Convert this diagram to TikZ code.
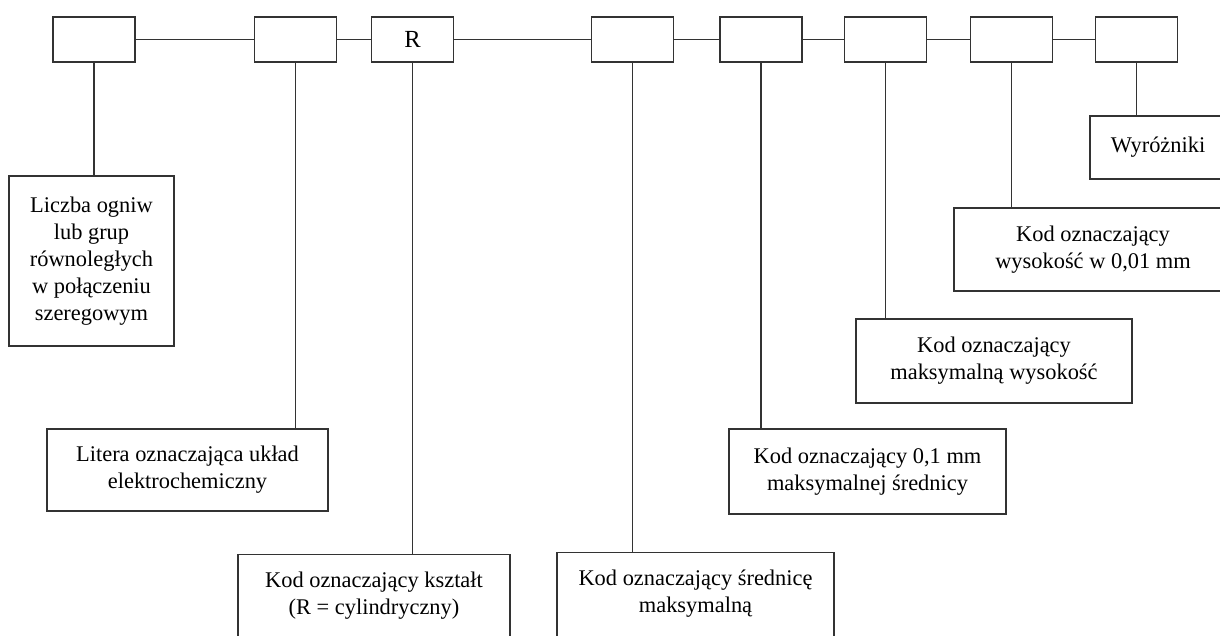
\documentclass[tikz,border=0pt]{standalone}
\usepackage{fontspec}
\setmainfont{Liberation Serif}
\usetikzlibrary{positioning}

\begin{document}
\begin{tikzpicture}[
    node distance=0.8cm,
    kratka/.style={rectangle, draw=black!80, line width=0.7pt, minimum width=1.64cm,
                   minimum height=0.9cm, inner sep=0pt, font=\fontsize{14}{16}\selectfont},
    opis/.style={rectangle, draw=black!80, line width=0.7pt, align=center,
                 inner xsep=4pt, inner ysep=0.34cm, font=\fontsize{12.75}{15.3}\selectfont},
    linia/.style={draw=black!80, line width=0.7pt}
]
    \useasboundingbox (0,0) rectangle (24.4,-12.7);
    \clip (0,0) rectangle (24.4,-12.7);

    % gorny rzad oznaczenia
    \node[kratka] (k1) at (1.88,-0.79) {};
    \node[kratka, right=2.36cm of k1] (k2) {};
    \node[kratka, right=0.68cm of k2] (k3) {R};
    \node[kratka, right=2.74cm of k3] (k4) {};
    \node[kratka, right=0.9cm of k4] (k5) {};
    \node[kratka, right=0.82cm of k5] (k6) {};
    \node[kratka, right=0.86cm of k6] (k7) {};
    \node[kratka, right=0.84cm of k7] (k8) {};

    % opisy
    \node[opis, minimum width=3.3cm, minimum height=3.4cm] (liczba) at (1.83,-5.22)
        {Liczba ogniw\\lub grup\\równoległych\\w połączeniu\\szeregowym};
    \node[opis, minimum width=5.62cm, minimum height=1.64cm] (litera) at (3.75,-9.4)
        {Litera oznaczająca układ\\elektrochemiczny};
    \node[opis, minimum width=5.44cm, text depth=2cm, anchor=north] (ksztalt) at (7.48,-11.08)
        {Kod oznaczający kształt\\(R = cylindryczny)};
    \node[opis, minimum width=5.54cm, text depth=2cm, anchor=north] (srednica) at (13.91,-11.04)
        {Kod oznaczający średnicę\\maksymalną};
    \node[opis, minimum width=5.54cm, minimum height=1.7cm] (maksdm) at (17.35,-9.43)
        {Kod oznaczający 0,1 mm\\maksymalnej średnicy};
    \node[opis, minimum width=5.52cm, minimum height=1.68cm] (makswys) at (19.88,-7.22)
        {Kod oznaczający\\maksymalną wysokość};
    \node[opis, minimum width=5.56cm, minimum height=1.66cm] (wysokosc) at (21.86,-4.99)
        {Kod oznaczający\\wysokość w 0,01 mm};
    \node[opis, minimum width=2.72cm, minimum height=1.26cm] (wyr) at (23.16,-2.95)
        {Wyróżniki};

    % linia laczaca
    \draw[linia] (k1) -- (k2);
    \draw[linia] (k2) -- (k3);
    \draw[linia] (k3) -- (k4);
    \draw[linia] (k4) -- (k5);
    \draw[linia] (k5) -- (k6);
    \draw[linia] (k6) -- (k7);
    \draw[linia] (k7) -- (k8);

    % odnosniki w dol
    \draw[linia] (k1) -- (k1 |- liczba.north);
    \draw[linia] (k2) -- (k2 |- litera.north);
    \draw[linia] (k3) -- (k3 |- ksztalt.north);
    \draw[linia] (k4) -- (k4 |- srednica.north);
    \draw[linia] (k5) -- (k5 |- maksdm.north);
    \draw[linia] (k6) -- (k6 |- makswys.north);
    \draw[linia] (k7) -- (k7 |- wysokosc.north);
    \draw[linia] (k8) -- (k8 |- wyr.north);
\end{tikzpicture}
\end{document}
